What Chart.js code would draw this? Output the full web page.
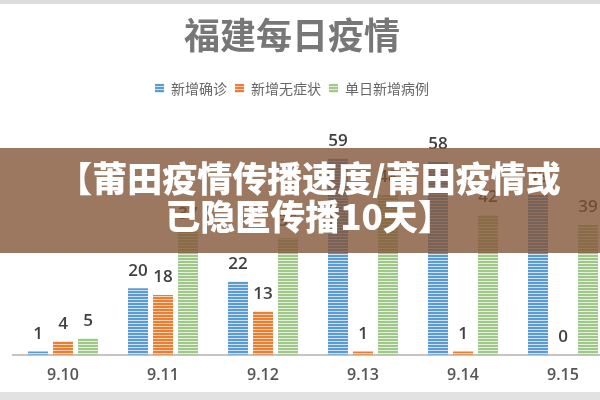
<!DOCTYPE html>
<html>
<head>
<meta charset="utf-8">
<script src="https://cdn.jsdelivr.net/npm/chart.js@4"></script>
<style>
  html, body { margin: 0; padding: 0; width: 600px; height: 400px; overflow: hidden; background: #fff; }
  #wrap { position: absolute; left: -29px; top: 0; width: 642px; height: 396px; }
  #topbar { position: absolute; left: 0; top: 0; width: 600px; height: 4px; background: #dcdcdc; }
  #botbar { position: absolute; left: 0; top: 392px; width: 600px; height: 8px; background: #e2e2e2; }
  #banner {
    position: absolute; left: 0; top: 148px; width: 600px; height: 105px;
    background: rgba(128, 82, 52, 0.78);
    color: #fff; font-family: "Noto Sans CJK SC", sans-serif; font-weight: 900;
    font-size: 35px; line-height: 38px; text-align: center;
    padding-top: 10px; box-sizing: border-box; padding-left: 18px;
  }
</style>
</head>
<body>
<div id="wrap"><canvas id="myChart"></canvas></div>
<div id="topbar"></div>
<div id="botbar"></div>
<div id="banner">【莆田疫情传播速度/莆田疫情或<br>已隐匿传播10天】</div>
<script>
const days = ['9.10', '9.11', '9.12', '9.13', '9.14', '9.15'];
const confirmed = [1, 20, 22, 59, 58, 48];
const asymptomatic = [4, 18, 13, 1, 1, 0];
const daily = [5, 37, 35, 48, 42, 39];

// striped fill like the source picture
function stripes(color, light) {
  const c = document.createElement('canvas');
  c.width = 4;
  c.height = 3;
  const g = c.getContext('2d');
  g.fillStyle = color;
  g.fillRect(0, 0, 4, 2);
  g.fillStyle = light;
  g.fillRect(0, 2, 4, 1);
  return g.createPattern(c, 'repeat');
}

const ctx = document.getElementById('myChart');

const valueLabels = {
  id: 'valueLabels',
  afterDatasetsDraw(chart) {
    const c = chart.ctx;
    c.save();
    c.font = '600 17px "Open Sans", "Noto Sans", sans-serif';
    c.fillStyle = '#404040';
    c.textAlign = 'center';
    c.textBaseline = 'bottom';
    chart.data.datasets.forEach((ds, i) => {
      chart.getDatasetMeta(i).data.forEach((bar, j) => {
        c.fillText(ds.data[j], bar.x, bar.y - 9);
      });
    });
    c.restore();
  }
};

new Chart(ctx, {
  type: 'bar',
  data: {
    labels: days,
    datasets: [
      {
        label: '新增确诊',
        data: confirmed,
        backgroundColor: stripes('#5b9bd5', '#cfe2f3')
      }, {
        label: '新增无症状',
        data: asymptomatic,
        backgroundColor: stripes('#ed7d31', '#f9d2b6')
      }, {
        label: '单日新增病例',
        data: daily,
        backgroundColor: stripes('#a2c78a', '#e2efd9')
      }
    ]
  },
  options: {
    responsive: true,
    maintainAspectRatio: false,
    animation: false,
    layout: {
      padding: { left: 0, right: 0, top: 0, bottom: 0 }
    },
    datasets: {
      bar: { categoryPercentage: 0.75, barPercentage: 0.8 }
    },
    plugins: {
      title: {
        display: true,
        text: '福建每日疫情',
        color: '#777',
        font: { family: '"Noto Sans CJK SC", sans-serif', size: 36, weight: 'bold' },
        padding: { top: 14, bottom: 16 }
      },
      legend: {
        position: 'top',
        labels: {
          color: '#666',
          boxWidth: 9,
          boxHeight: 9,
          padding: 8,
          font: { family: '"Noto Sans CJK SC", sans-serif', size: 14 }
        }
      },
      tooltip: { enabled: false }
    },
    scales: {
      x: {
        grid: { display: false, drawTicks: false },
        border: { display: true, color: '#c4c4c4', width: 2 },
        ticks: {
          color: '#555',
          padding: 11,
          font: { family: '"Open Sans", sans-serif', size: 16, weight: '600' }
        }
      },
      y: {
        display: true,
        beginAtZero: true,
        max: 75,
        grid: { display: false, drawTicks: false },
        border: { display: false },
        ticks: { display: false },
        afterFit(scale) { scale.width = 42; }
      }
    }
  },
  plugins: [valueLabels]
});
</script>
</body>
</html>
